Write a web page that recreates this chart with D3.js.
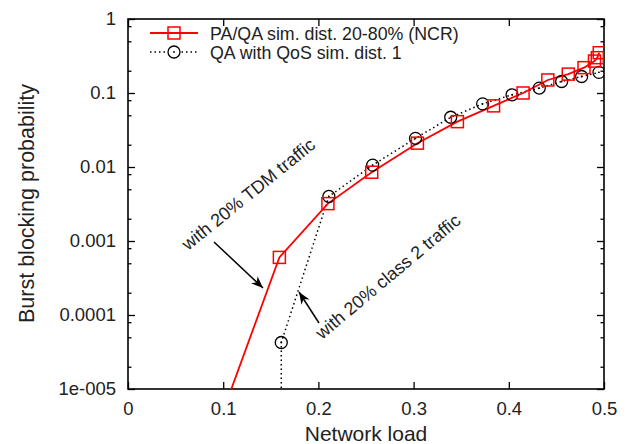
<!DOCTYPE html>
<html><head><meta charset="utf-8">
<script src="https://cdn.jsdelivr.net/npm/d3@7"></script>
<style>body{margin:0;background:#fff}svg{display:block}text{font-family:"Liberation Sans",Arial,sans-serif;fill:#222}</style>
</head><body>
<svg id="c" width="632" height="444"></svg>
<script>
// data
const redX = [0.1, 0.159, 0.21, 0.256, 0.304, 0.346, 0.384, 0.415, 0.441, 0.4625, 0.479, 0.49, 0.493, 0.495];
const redY = [5e-6, 0.0006, 0.0032, 0.0085, 0.021, 0.041, 0.067, 0.10, 0.15, 0.18, 0.22, 0.27, 0.30, 0.35];
const blkX = [0.161, 0.161, 0.211, 0.257, 0.302, 0.339, 0.3725, 0.4034, 0.432, 0.4555, 0.4765, 0.4947];
const blkY = [1e-9, 4.25e-5, 0.0040, 0.0106, 0.0244, 0.047, 0.0713, 0.0946, 0.1165, 0.143, 0.167, 0.19];
const xTicks = [0, 0.1, 0.2, 0.3, 0.4, 0.5];
const xTickLabels = ["0", "0.1", "0.2", "0.3", "0.4", "0.5"];
const yTicks = [1e-5, 1e-4, 1e-3, 1e-2, 0.1, 1];
const yTickLabels = ["1e-005", "0.0001", "0.001", "0.01", "0.1", "1"];
const yMinorMult = [2, 5, 8];
const legendLabels = ["PA/QA sim. dist. 20-80% (NCR)", "QA with QoS sim. dist. 1"];
const annot1 = "with 20% TDM traffic";
const annot2 = "with 20% class 2 traffic";

const L = 128, R = 604, T = 19, B = 389;
const svg = d3.select("#c");
const x = d3.scaleLinear().domain([0, 0.5]).range([L, R]);
const y = d3.scaleLog().domain([1e-5, 1]).range([B, T]);

const yMinor = [];
for (let e = -5; e < 0; e++) yMinorMult.forEach(m => yMinor.push(m * Math.pow(10, e)));

svg.append("defs").append("clipPath").attr("id", "clip")
  .append("rect").attr("x", L).attr("y", T).attr("width", R - L).attr("height", B - T);

const fs = "18.5px";
const gB = svg.append("g").attr("transform", `translate(0,${B})`)
  .call(d3.axisBottom(x).tickValues(xTicks).tickFormat((d, i) => xTickLabels[i]).tickSizeInner(-7).tickSizeOuter(0).tickPadding(12.8));
const gT = svg.append("g").attr("transform", `translate(0,${T})`)
  .call(d3.axisTop(x).tickValues(xTicks).tickFormat("").tickSizeInner(-7).tickSizeOuter(0));
const gL = svg.append("g").attr("transform", `translate(${L},0)`)
  .call(d3.axisLeft(y).tickValues(yTicks).tickFormat((d, i) => yTickLabels[i]).tickSizeInner(-7).tickSizeOuter(0).tickPadding(12));
const gLm = svg.append("g").attr("transform", `translate(${L},0)`)
  .call(d3.axisLeft(y).tickValues(yMinor).tickFormat("").tickSizeInner(-3.5).tickSizeOuter(0));
const gR = svg.append("g").attr("transform", `translate(${R},0)`)
  .call(d3.axisRight(y).tickValues(yTicks).tickFormat("").tickSizeInner(-7).tickSizeOuter(0));
const gRm = svg.append("g").attr("transform", `translate(${R},0)`)
  .call(d3.axisRight(y).tickValues(yMinor).tickFormat("").tickSizeInner(-3.5).tickSizeOuter(0));
[gB, gT, gL, gLm, gR, gRm].forEach(g => {
  g.select(".domain").remove();
  g.selectAll("line").attr("stroke", "#000").attr("stroke-width", 1.3);
  g.selectAll("text").style("font-size", fs).style("font-family", '"Liberation Sans",Arial,sans-serif').attr("fill", "#222");
});
svg.append("rect").attr("x", L).attr("y", T).attr("width", R - L).attr("height", B - T)
  .attr("fill", "none").attr("stroke", "#000").attr("stroke-width", 1.6);

// axis labels
svg.append("text").attr("x", (L + R) / 2).attr("y", 441).attr("text-anchor", "middle")
  .style("font-size", "21px").text("Network load");
svg.append("text").attr("transform", `translate(33.5,203.5) rotate(-90)`).attr("text-anchor", "middle")
  .style("font-size", "21.5px").text("Burst blocking probability");

// series
const plot = svg.append("g").attr("clip-path", "url(#clip)");
const redData = redX.map((v, i) => [v, redY[i]]);
const blkData = blkX.map((v, i) => [v, blkY[i]]);
const line = d3.line().x(d => x(d[0])).y(d => y(d[1]));
plot.append("path").datum(blkData).attr("d", line).attr("fill", "none")
  .attr("stroke", "#000").attr("stroke-width", 1.5).attr("stroke-dasharray", "1.5,3");
plot.append("path").datum(redData).attr("d", line).attr("fill", "none")
  .attr("stroke", "#f00").attr("stroke-width", 1.8);
const bpts = plot.selectAll(".c").data(blkData).join("g").attr("transform", d => `translate(${x(d[0])},${y(d[1])})`);
bpts.append("circle").attr("r", 6).attr("fill", "none").attr("stroke", "#000").attr("stroke-width", 1.3);
bpts.append("circle").attr("r", 0.9).attr("fill", "#000");
plot.selectAll(".s").data(redData).join("rect")
  .attr("x", d => x(d[0]) - 6).attr("y", d => y(d[1]) - 6).attr("width", 12).attr("height", 12)
  .attr("fill", "none").attr("stroke", "#f00").attr("stroke-width", 1.5);

// legend
const lg = svg.append("g");
lg.append("line").attr("x1", 150).attr("x2", 198).attr("y1", 33).attr("y2", 33).attr("stroke", "#f00").attr("stroke-width", 1.8);
lg.append("rect").attr("x", 168).attr("y", 27).attr("width", 12).attr("height", 12).attr("fill", "none").attr("stroke", "#f00").attr("stroke-width", 1.5);
lg.append("line").attr("x1", 150).attr("x2", 198).attr("y1", 52).attr("y2", 52).attr("stroke", "#000").attr("stroke-width", 1.5).attr("stroke-dasharray", "1.5,3");
lg.append("circle").attr("cx", 174).attr("cy", 52).attr("r", 6).attr("fill", "#fff").attr("stroke", "#000").attr("stroke-width", 1.3);
lg.append("circle").attr("cx", 174).attr("cy", 52).attr("r", 0.9).attr("fill", "#000");
legendLabels.forEach((t, i) => {
  lg.append("text").attr("x", 210).attr("y", 39.5 + i * 19).style("font-size", "17.8px").text(t);
});

// annotations
svg.append("text").attr("transform", "translate(188,251) rotate(-39)").style("font-size", "18px").text(annot1);
svg.append("text").attr("transform", "translate(322,340) rotate(-40)").style("font-size", "18px").text(annot2);
const defs = svg.select("defs");
defs.append("marker").attr("id", "ah").attr("viewBox", "0 0 10 10").attr("refX", 10).attr("refY", 5)
  .attr("markerWidth", 12).attr("markerHeight", 12).attr("markerUnits", "userSpaceOnUse").attr("orient", "auto")
  .append("path").attr("d", "M0,1 L10,5 L0,9 L3,5 Z").attr("fill", "#000");
svg.append("line").attr("x1", 214).attr("y1", 242).attr("x2", 263).attr("y2", 288)
  .attr("stroke", "#000").attr("stroke-width", 1.5).attr("marker-end", "url(#ah)");
svg.append("line").attr("x1", 319).attr("y1", 323).attr("x2", 299).attr("y2", 292)
  .attr("stroke", "#000").attr("stroke-width", 1.5).attr("marker-end", "url(#ah)");
</script>
</body></html>
